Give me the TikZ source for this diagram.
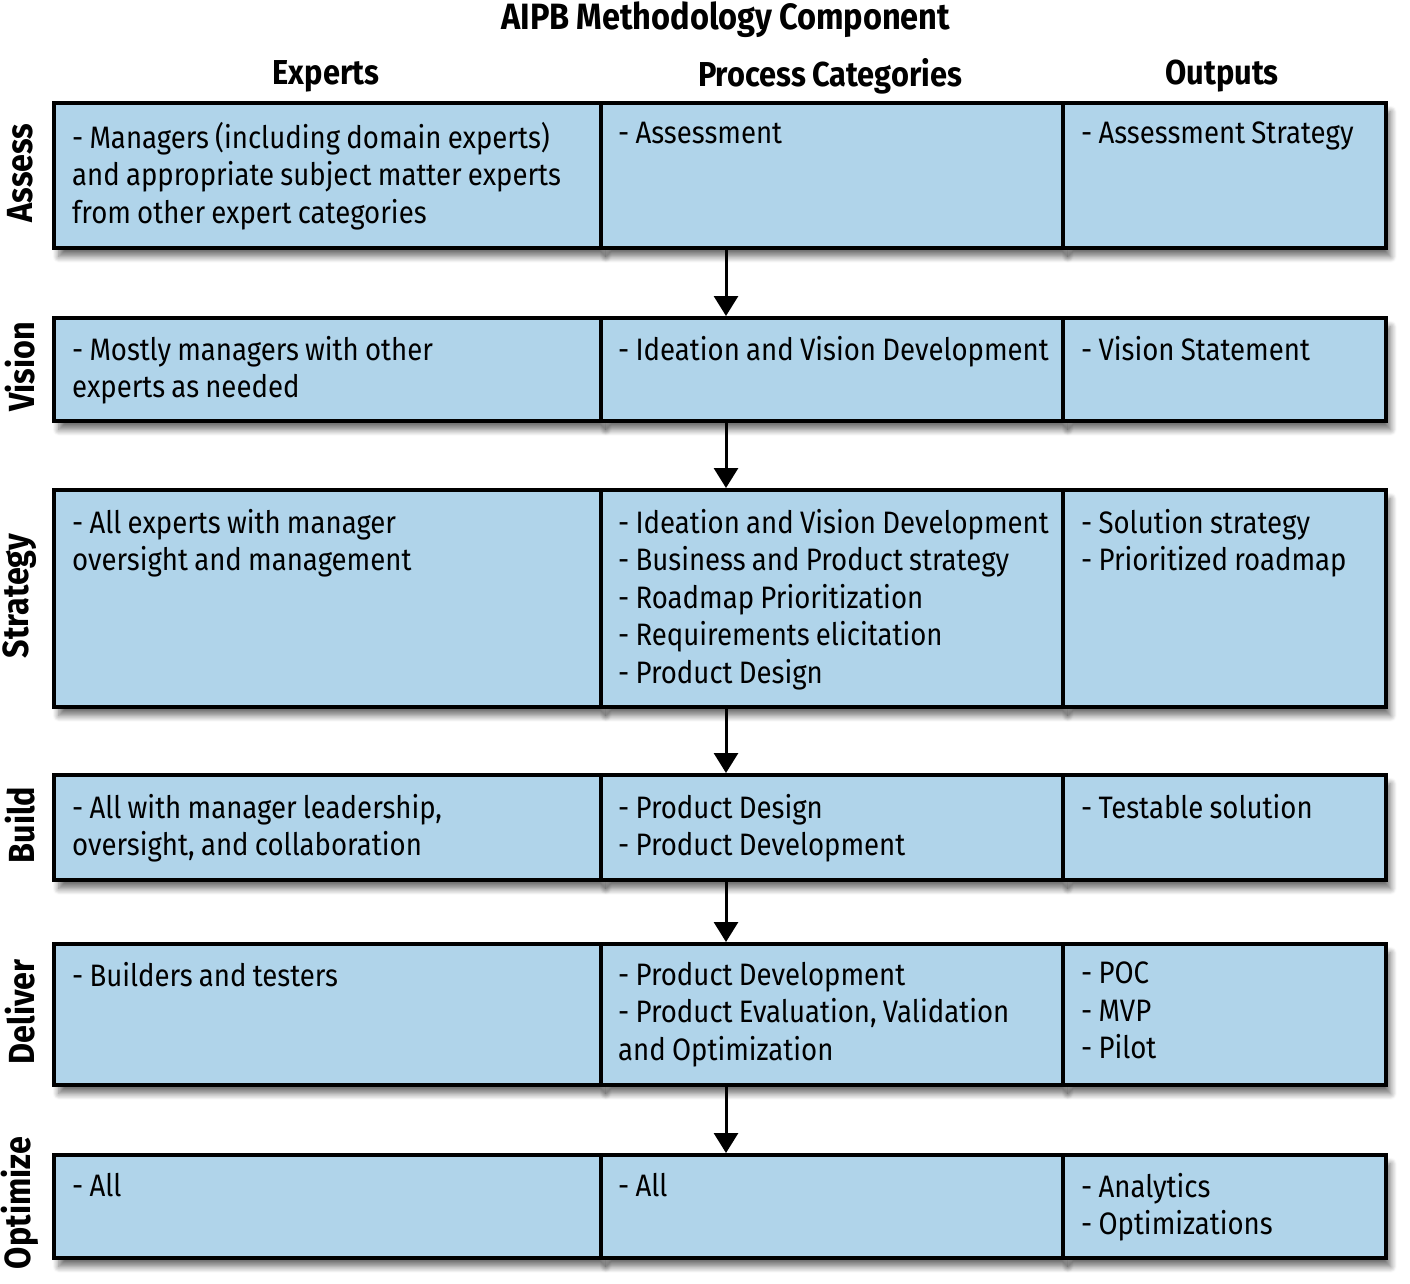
\documentclass[tikz,border=0pt]{standalone}
\usepackage{fontspec}
\setmainfont{Fira Sans}[FakeStretch=0.89,WordSpace=0.85]
\usetikzlibrary{arrows.meta,shadows.blur}
\definecolor{cellblue}{HTML}{B0D4EA}
\begin{document}
\begin{tikzpicture}[x=1pt,y=-1pt,
  cell/.style={draw=black, line width=3.5pt, fill=cellblue, anchor=north west, inner sep=0pt,
    blur shadow={shadow xshift=5pt, shadow yshift=-9pt, shadow blur radius=6pt, shadow blur steps=10, shadow opacity=55}},
  celltext/.style={anchor=north west, align=left, inner sep=0pt, font=\fontsize{31}{37.5}\selectfont},
  head/.style={font=\fontsize{34.6}{38}\selectfont\bfseries},
  titlestyle/.style={font=\fontsize{36.6}{40}\selectfont\bfseries},
  rowlab/.style={font=\fontsize{36.3}{40}\selectfont\bfseries, rotate=90},
  flow/.style={line width=3pt, -{Triangle[length=20pt,width=24pt]}}]
\useasboundingbox (0,0) rectangle (1410,1283);
% title and headers
\node[titlestyle] (title) at (726,20) {AIPB Methodology Component};
\node[head] (hexp) at (326,76) {Experts};
\node[head] (hproc) at (830,76) {Process Categories};
\node[head] (hout) at (1222,76) {Outputs};
% rows
\def\cA{52}\def\cB{599}\def\cC{1061}\def\cD{1384}
\foreach \r/\t/\b in {1/101/246, 2/316/419, 3/488/705, 4/773/878, 5/942/1083, 6/1153/1256}{
  \node[cell, minimum width=\cB-\cA pt, minimum height=\b-\t pt] (r\r c1) at (\cA,\t) {};
  \node[cell, minimum width=\cC-\cB pt, minimum height=\b-\t pt] (r\r c2) at (\cB,\t) {};
  \node[cell, minimum width=\cD-\cC pt, minimum height=\b-\t pt] (r\r c3) at (\cC,\t) {};
}
% row labels
\node[rowlab] (lab1) at (20,173) {Assess};
\node[rowlab] (lab2) at (20,367) {Vision};
\node[rowlab] (lab3) at (20,596) {Strategy};
\node[rowlab] (lab4) at (20,825) {Build};
\node[rowlab] (lab5) at (20,1012) {Deliver};
\node[rowlab] (lab6) at (20,1203) {Optimize};
% texts
\node[celltext] (t11) at (72,122) {- Managers (including domain experts)\\and appropriate subject matter experts\\from other expert categories};
\node[celltext] (t12) at (618,122) {- Assessment};
\node[celltext] (t13) at (1081,122) {- Assessment Strategy};
\node[celltext] (t21) at (72,336) {- Mostly managers with other\\experts as needed};
\node[celltext] (t22) at (618,336) {- Ideation and Vision Development};
\node[celltext] (t23) at (1081,336) {- Vision Statement};
\node[celltext] (t31) at (72,509) {- All experts with manager\\oversight and management};
\node[celltext] (t32) at (618,509) {- Ideation and Vision Development\\- Business and Product strategy\\- Roadmap Prioritization\\- Requirements elicitation\\- Product Design};
\node[celltext] (t33) at (1081,509) {- Solution strategy\\- Prioritized roadmap};
\node[celltext] (t41) at (72,794) {- All with manager leadership,\\oversight, and collaboration};
\node[celltext] (t42) at (618,794) {- Product Design\\- Product Development};
\node[celltext] (t43) at (1081,794) {- Testable solution};
\node[celltext] (t51) at (72,962) {- Builders and testers};
\node[celltext] (t52) at (618,962) {- Product Development\\- Product Evaluation, Validation\\and Optimization};
\node[celltext] (t53) at (1081,962) {- POC\\- MVP\\- Pilot};
\node[celltext] (t61) at (72,1173) {- All};
\node[celltext] (t62) at (618,1173) {- All};
\node[celltext] (t63) at (1081,1173) {- Analytics\\- Optimizations};
% arrows
\coordinate (ax) at (726,0);
\foreach \a/\b in {1/2,2/3,3/4,4/5,5/6}{
  \draw[flow] (r\a c2.south -| ax) -- (r\b c2.north -| ax);
}
\end{tikzpicture}
\end{document}
